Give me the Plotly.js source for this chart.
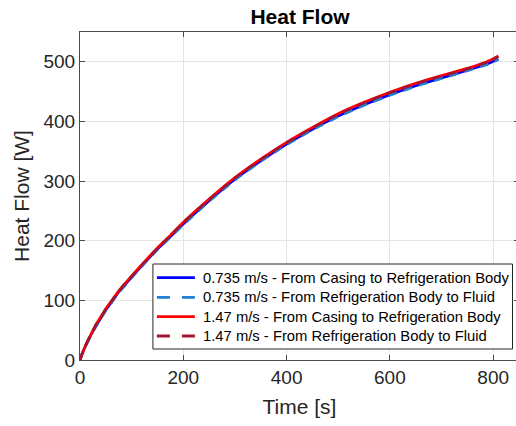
<!DOCTYPE html>
<html>
<head>
<meta charset="utf-8">
<script src="https://cdn.plot.ly/plotly-3.0.1.min.js"></script>
<style>
  html, body { margin: 0; padding: 0; overflow: hidden; background: #fff; }
  #chart { width: 530px; height: 426px; }
</style>
</head>
<body>
<div id="chart"></div>
<script>
// Time samples [s]
const time = [0, 5, 10, 20, 30, 40, 50, 60, 75, 100, 125, 150, 175, 200, 250, 300, 350, 400, 450, 500, 550, 600, 650, 700, 750, 790, 810];

// Heat flow [W], 0.735 m/s
const slowCasingToBody = [0, 12, 22, 40, 56, 70, 84, 96, 114, 139, 163, 186, 207, 228, 267, 303, 334, 362, 387, 409, 428, 445, 460, 473, 486, 497, 505];
const slowBodyToFluid  = [0, 12, 22, 39, 55, 69, 83, 95, 113, 138, 162, 185, 206, 227, 266, 302, 333, 361, 386, 408, 427, 444, 459, 472, 485, 496, 504];

// Heat flow [W], 1.47 m/s
const fastCasingToBody = [0, 12, 23, 41, 58, 72, 86, 98, 116, 141, 165, 188, 209, 231, 270, 306, 337, 365, 390, 413, 432, 449, 464, 477, 489, 501, 510];
const fastBodyToFluid  = [0, 12, 23, 41, 57, 71, 85, 97, 115, 140, 164, 187, 208, 230, 269, 305, 336, 364, 389, 412, 431, 448, 463, 476, 488, 500, 509];

const seriesNames = [
  '0.735 m/s - From Casing to Refrigeration Body',
  '0.735 m/s - From Refrigeration Body to Fluid',
  '1.47 m/s - From Casing to Refrigeration Body',
  '1.47 m/s - From Refrigeration Body to Fluid'
];
const seriesColors = ['#0000ff', '#1f7fd6', '#ff0000', '#a2142f'];
const seriesDash = ['solid', 'dash', 'solid', 'dash'];

const xTicks = [0, 200, 400, 600, 800];
const yTicks = [0, 100, 200, 300, 400, 500];

const FONT = 'Liberation Sans, Arial, sans-serif';

const seriesData = [slowCasingToBody, slowBodyToFluid, fastCasingToBody, fastBodyToFluid];
const traces = seriesData.map((y, i) => ({
  x: time, y: y, name: seriesNames[i], type: 'scatter', mode: 'lines',
  line: { color: seriesColors[i], width: 2.7, dash: seriesDash[i] === 'dash' ? '9px,7px' : 'solid',
          shape: 'spline', smoothing: 0.6 }
}));

// Boxed legend in the lower right of the axes (pixel geometry mapped to paper units)
const plotLeft = 80, plotWidth = 439.5, plotBottom = 360, plotHeight = 328;
const px = v => (v - plotLeft) / plotWidth;
const py = v => (plotBottom - v) / plotHeight;
const legBox = { x0: 153, x1: 513, y0: 264, y1: 349 };
const rowY = [277.7, 297.3, 316.7, 336];

const shapes = [{
  type: 'rect', xref: 'paper', yref: 'paper',
  x0: px(legBox.x0), x1: px(legBox.x1), y0: py(legBox.y1), y1: py(legBox.y0),
  fillcolor: '#ffffff', line: { color: '#262626', width: 1 }, layer: 'above'
}];
const annotations = [];
rowY.forEach((ry, i) => {
  shapes.push({
    type: 'line', xref: 'paper', yref: 'paper',
    x0: px(157), x1: px(195), y0: py(ry), y1: py(ry),
    line: { color: seriesColors[i], width: 2.8, dash: seriesDash[i] === 'dash' ? '13px,12px' : 'solid' },
    layer: 'above'
  });
  annotations.push({
    xref: 'paper', yref: 'paper', x: px(201), y: py(ry),
    xanchor: 'left', yanchor: 'middle', showarrow: false,
    text: seriesNames[i],
    font: { family: FONT, size: 14.8, color: '#000000' }
  });
});

const axisCommon = {
  showline: true, linecolor: '#4a4a4a', linewidth: 1,
  mirror: 'allticks', ticks: 'inside', ticklen: 5, tickcolor: '#4a4a4a',
  showgrid: true, gridcolor: '#e4e4e4', gridwidth: 1,
  zeroline: false,
  tickfont: { family: FONT, size: 19, color: '#262626' }
};

const layout = {
  width: 530, height: 426,
  margin: { l: 80, r: 10.5, t: 32, b: 66 },
  paper_bgcolor: '#ffffff', plot_bgcolor: '#ffffff',
  showlegend: false,
  title: {
    text: '<b>Heat Flow</b>',
    font: { family: FONT, size: 21, color: '#000000' },
    x: 300 / 530, xanchor: 'center', y: 1 - 17 / 426, yanchor: 'middle'
  },
  xaxis: Object.assign({}, axisCommon, {
    range: [0, 850], tickvals: xTicks, ticktext: xTicks.map(String),
    title: { text: 'Time [s]', standoff: 12, font: { family: FONT, size: 21, color: '#262626' } }
  }),
  yaxis: Object.assign({}, axisCommon, {
    range: [0, 550], tickvals: yTicks, ticktext: yTicks.map(String),
    title: { text: 'Heat Flow [W]', standoff: 8, font: { family: FONT, size: 21, color: '#262626' } }
  }),
  shapes: shapes,
  annotations: annotations
};

Plotly.newPlot('chart', traces, layout, { displayModeBar: false, staticPlot: true });
</script>
</body>
</html>
